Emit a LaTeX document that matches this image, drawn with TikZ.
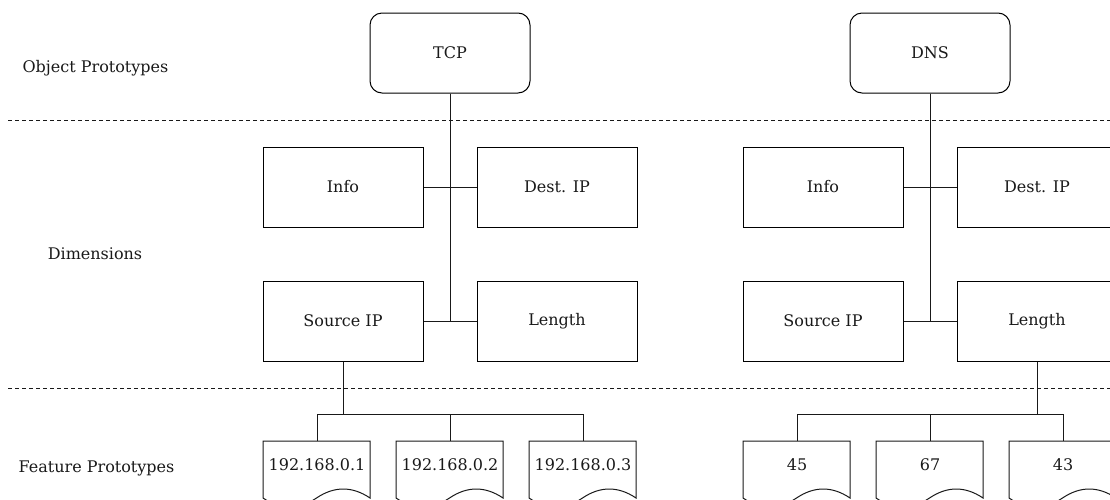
\documentclass[tikz,border=0pt]{standalone}
\usepackage{fontspec}
\setmainfont{DejaVu Serif}
\usetikzlibrary{calc}
\begin{document}
\begin{tikzpicture}[x=1pt,y=-1pt,line width=1pt,
  every node/.style={font=\fontsize{16}{19}\selectfont, text=black!90},
  lane/.style={inner sep=0pt},
  proto/.style={draw, rounded corners=12pt, minimum width=160pt, minimum height=80pt, inner sep=0pt},
  dimbox/.style={draw, minimum width=160pt, minimum height=80pt, inner sep=0pt},
  docbox/.style={anchor=north, minimum width=107pt, minimum height=47pt, inner sep=0pt},
  link/.style={draw=black!90},
  sep/.style={draw=black!90, dash pattern=on 4pt off 3pt}]
\useasboundingbox (0,0) rectangle (1110,499);

% lane labels
\node[lane] (lObj)  at (95.5,68)  {Object Prototypes};
\node[lane] (lDim)  at (95,254)   {Dimensions};
\node[lane] (lFeat) at (96.5,468) {Feature Prototypes};

% lane separators
\coordinate (s1a) at (8,120);  \coordinate (s1b) at (1110,120);
\coordinate (s2a) at (8,388);  \coordinate (s2b) at (1110,388);
\draw[sep] (s1a) -- (s1b);
\draw[sep] (s2a) -- (s2b);

% object prototypes
\node[proto] (tcp) at (450,53) {TCP};
\node[proto] (dns) at (930,53) {DNS};

% dimensions
\node[dimbox] (infoL) at (343,187)  {Info};
\node[dimbox] (destL) at (557,187)  {Dest. IP};
\node[dimbox] (srcL)  at (343,321)  {Source IP};
\node[dimbox] (lenL)  at (557,321)  {Length};
\node[dimbox] (infoR) at (823,187)  {Info};
\node[dimbox] (destR) at (1037,187) {Dest. IP};
\node[dimbox] (srcR)  at (823,321)  {Source IP};
\node[dimbox] (lenR)  at (1037,321) {Length};

% feature prototypes (document shapes)
\node[docbox] (d1) at (317,441)  {192.168.0.1};
\node[docbox] (d2) at (450,441)  {192.168.0.2};
\node[docbox] (d3) at (583,441)  {192.168.0.3};
\node[docbox] (d4) at (797,441)  {45};
\node[docbox] (d5) at (930,441)  {67};
\node[docbox] (d6) at (1063,441) {43};
\foreach \n in {d1,d2,d3,d4,d5,d6}{
  \begin{scope}[shift={(\n.north west)}]
    \draw[link] (0,0) -- (107,0) -- (107,57)
      .. controls (89.2,45) and (71.3,45) .. (53.5,57)
      .. controls (35.7,69) and (17.8,69) .. (0,57) -- cycle;
  \end{scope}
}

% prototype to dimensions
\foreach \p/\a/\b/\c/\d in {tcp/infoL/destL/srcL/lenL, dns/infoR/destR/srcR/lenR}{
  \draw[link] (\p.south) |- (\a.east);
  \draw[link] (\p.south) |- (\b.west);
  \draw[link] (\p.south) |- (\c.east);
  \draw[link] (\p.south) |- (\d.west);
}

% dimensions to feature prototypes
\foreach \d in {d1,d2,d3}{
  \draw[link] (srcL.south) -- ++(0,53) -| (\d.north);
}
\foreach \d in {d4,d5,d6}{
  \draw[link] (lenR.south) -- ++(0,53) -| (\d.north);
}
\end{tikzpicture}
\end{document}
